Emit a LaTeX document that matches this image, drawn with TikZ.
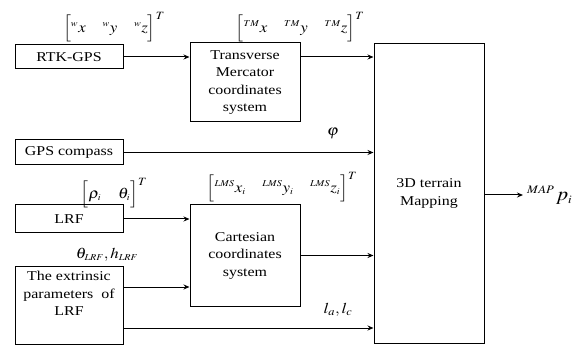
\documentclass[tikz,border=0pt]{standalone}
\usepackage{mathptmx}
\usepackage[no-math]{fontspec}
\setmainfont[FakeStretch=1.18]{Liberation Serif}
\usetikzlibrary{arrows.meta}
\newcommand{\mlab}[1]{\scalebox{1.12}[1]{$#1$}}
\begin{document}
\begin{tikzpicture}[x=1pt,y=-1pt,
  box/.style={draw, line width=1pt, align=center, inner sep=0pt, font=\fontsize{13.5}{17.5}\selectfont},
  arr/.style={-{Stealth[length=6pt,width=5pt]}, line width=1pt},
  lab/.style={inner sep=0pt, font=\fontsize{15}{18}\selectfont}]
\useasboundingbox (0,0) rectangle (586,347);
% boxes
\node[box, minimum width=108pt, minimum height=24pt] (rtk) at (69,57) {RTK-GPS};
\node[box, minimum width=110pt, minimum height=79pt] (tm) at (245,82.5) {Transverse\\Mercator\\coordinates\\system};
\node[box, minimum width=108pt, minimum height=25pt] (gps) at (69,152.5) {GPS compass};
\node[box, minimum width=108pt, minimum height=28pt] (lrf) at (69,219) {LRF};
\node[box, minimum width=110pt, minimum height=101pt] (cart) at (245,255.5) {Cartesian\\coordinates\\system};
\node[box, minimum width=108pt, minimum height=77pt] (ext) at (69,305.5) {The extrinsic\\parameters\ \ of\\LRF\\[6pt]};
\node[box, minimum width=110pt, minimum height=299pt] (map) at (429,193.5) {3D terrain\\Mapping};
% output coordinate
\coordinate (out) at (523,195);
% connectors
\draw[arr] (rtk.east) -- (rtk.east -| tm.west);
\draw[arr] (tm.east |- rtk.east) -- (tm.east |- rtk.east -| map.west);
\draw[arr] (gps.east) -- (gps.east -| map.west);
\draw[arr] (lrf.east) -- (lrf.east -| cart.west);
\coordinate (e1) at ([yshift=18.5pt]ext.east);
\draw[arr] (e1) -- (e1 -| cart.west);
\draw[arr] (cart.east) -- (cart.east -| map.west);
\coordinate (e2) at ([yshift=-22.5pt]ext.east);
\draw[arr] (e2) -- (e2 -| map.west);
\draw[arr] (map.east |- out) -- (out);
% labels
\node[lab] (lw) at (114,27) {\mlab{\Bigl[{}^{\scriptscriptstyle w}x\quad {}^{\scriptscriptstyle w}y\quad {}^{\scriptscriptstyle w}z\Bigr]^{T}}};
\node[lab] (ltm) at (300,27) {\mlab{\Bigl[{}^{\scriptscriptstyle TM}x\quad {}^{\scriptscriptstyle TM}y\quad {}^{\scriptscriptstyle TM}z\Bigr]^{T}}};
\node[lab] (lphi) at (333,133) {\mlab{\varphi}};
\node[lab] (lrt) at (114,193) {\mlab{\Bigl[\rho_{\scriptscriptstyle i}\quad \theta_{\scriptscriptstyle i}\Bigr]^{T}}};
\node[lab] (llms) at (282,187) {\mlab{\Bigl[{}^{\scriptscriptstyle LMS}x_{\scriptscriptstyle i}\quad {}^{\scriptscriptstyle LMS}y_{\scriptscriptstyle i}\quad {}^{\scriptscriptstyle LMS}z_{\scriptscriptstyle i}\Bigr]^{T}}};
\node[lab] (lth) at (107,255) {\mlab{\theta_{\scriptscriptstyle LRF},h_{\scriptscriptstyle LRF}}};
\node[lab] (lla) at (338,310) {\mlab{l_{a},l_{c}}};
\node[lab, anchor=west, font=\fontsize{19}{22}\selectfont] (lp) at (527,195) {\mlab{{}^{\scriptscriptstyle MAP\,}p_{\scriptscriptstyle i}}};
\end{tikzpicture}
\end{document}
